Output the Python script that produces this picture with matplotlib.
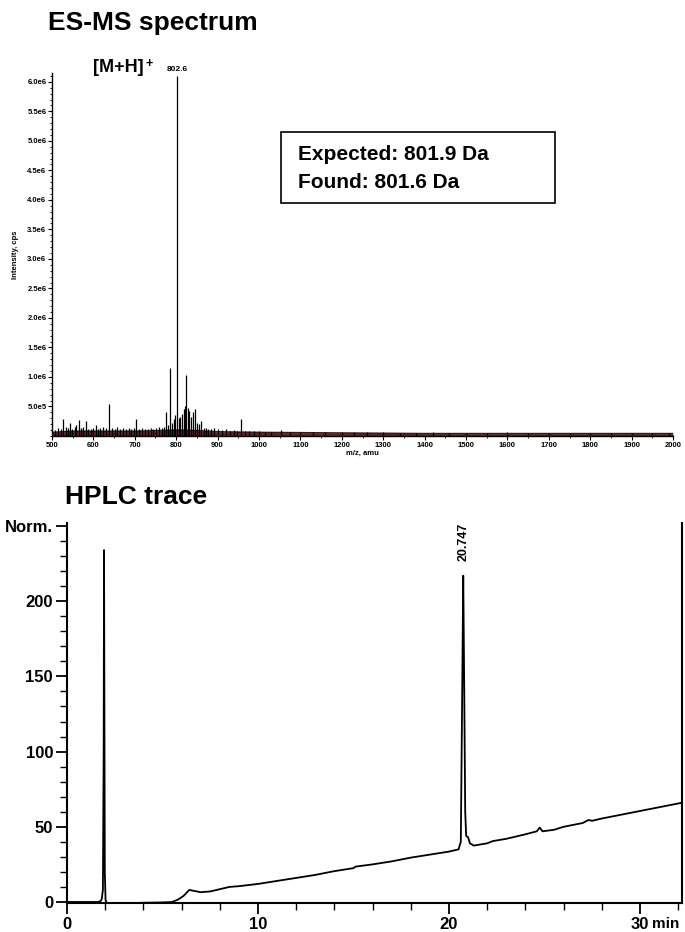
import matplotlib
matplotlib.use('Agg')
import matplotlib.pyplot as plt
from matplotlib.ticker import MultipleLocator, FixedLocator

plt.rcParams['font.family'] = ['Liberation Sans', 'DejaVu Sans']
plt.rcParams['font.weight'] = 'bold'

# ES-MS stick peaks (m/z, intensity in units of 1e6 cps)
ms_mz = [508, 515, 521, 527, 533, 539, 543, 549, 555, 559, 565, 571, 576, 582,
         588, 594, 600, 606, 611, 617, 623, 630, 638, 644, 651, 657, 664, 671,
         678, 685, 692, 698, 703, 710, 717, 724, 731, 738, 745, 752, 759, 765,
         770, 775, 780, 785, 790, 795, 798, 802.6, 806, 810, 814, 818, 821, 824,
         828, 832, 836, 840, 845, 850, 855, 860, 866, 872, 878, 885, 892, 900,
         910, 920, 930, 940, 948, 956, 965, 975, 988, 1000, 1015, 1030, 1052,
         1075, 1100, 1130, 1160, 1200, 1230, 1260, 1300, 1340, 1380, 1420, 1460,
         1500, 1550, 1600, 1650, 1700, 1750, 1800, 1850, 1900, 1950, 1990]
ms_int = [0.10, 0.14, 0.12, 0.29, 0.16, 0.13, 0.22, 0.12, 0.15, 0.19, 0.27, 0.13,
          0.15, 0.25, 0.11, 0.12, 0.14, 0.18, 0.12, 0.13, 0.16, 0.14, 0.55, 0.13,
          0.12, 0.16, 0.12, 0.13, 0.11, 0.14, 0.12, 0.13, 0.29, 0.12, 0.13, 0.12,
          0.11, 0.14, 0.12, 0.13, 0.15, 0.14, 0.16, 0.40, 0.18, 1.15, 0.22, 0.28,
          0.35, 6.10, 0.30, 0.32, 0.38, 0.45, 0.50, 1.03, 0.48, 0.42, 0.32, 0.40,
          0.45, 0.22, 0.20, 0.25, 0.14, 0.13, 0.12, 0.12, 0.13, 0.11, 0.10, 0.11,
          0.09, 0.10, 0.09, 0.29, 0.09, 0.08, 0.08, 0.08, 0.07, 0.07, 0.10, 0.07,
          0.06, 0.07, 0.06, 0.07, 0.06, 0.06, 0.06, 0.05, 0.05, 0.06, 0.05, 0.05,
          0.05, 0.06, 0.05, 0.05, 0.05, 0.05, 0.05, 0.05, 0.05, 0.05]
# baseline noise band
base_mz = [500, 550, 600, 700, 760, 800, 850, 900, 1000, 1200, 1400, 1600, 1800, 2000]
base_int = [0.06, 0.08, 0.08, 0.08, 0.09, 0.10, 0.09, 0.07, 0.06, 0.05, 0.04, 0.04, 0.04, 0.04]
ms_yticks = [0.5, 1.0, 1.5, 2.0, 2.5, 3.0, 3.5, 4.0, 4.5, 5.0, 5.5, 6.0]
ms_ylabels = ['5.0e5', '1.0e6', '1.5e6', '2.0e6', '2.5e6', '3.0e6', '3.5e6',
              '4.0e6', '4.5e6', '5.0e6', '5.5e6', '6.0e6']

# HPLC trace (min, Norm.)
hplc_t = [0.0, 1.0, 1.6, 1.75, 1.82, 1.88, 1.92, 1.94, 1.96, 1.98, 2.02, 2.1,
          3.0, 4.0, 5.0, 5.5, 5.8, 6.1, 6.4, 6.6, 7.0, 7.5, 8.0, 8.5, 9.0,
          10.0, 11.0, 12.0, 13.0, 14.0, 15.0, 15.1, 16.0, 17.0, 18.0, 19.0,
          20.0, 20.5, 20.62, 20.7, 20.747, 20.8, 20.85, 20.9, 21.0, 21.1, 21.3,
          22.0, 22.3, 23.0, 24.0, 24.6, 24.75, 24.9, 25.5, 26.0, 27.0, 27.3,
          27.5, 28.0, 29.0, 30.0, 31.0, 32.0, 32.2]
hplc_y = [0.0, 0.0, 0.0, 0.5, 2.0, 8.0, 100.0, 234.0, 120.0, 20.0, 1.0, -1.0,
          -1.0, -0.5, -0.3, 0.0, 1.5, 4.0, 8.0, 7.5, 6.5, 7.0, 8.5, 10.0, 10.5,
          12.0, 14.0, 16.0, 18.0, 20.5, 22.5, 23.5, 25.0, 27.0, 29.5, 31.5,
          33.5, 35.0, 40.0, 150.0, 217.0, 140.0, 60.0, 44.0, 43.0, 39.0, 37.5,
          39.0, 40.5, 42.0, 45.0, 47.0, 49.5, 47.0, 48.0, 50.0, 52.5, 54.5,
          54.0, 55.5, 58.0, 60.5, 63.0, 65.5, 66.0]
hplc_xticks = [0, 10, 20, 30]
hplc_yticks = [0, 50, 100, 150, 200, 250]
hplc_ylabels = ['0', '50', '100', '150', '200', 'Norm.']

fig = plt.figure(figsize=(6.85, 9.32), dpi=100)

# ---- ES-MS spectrum ----
ax1 = fig.add_axes([0.0759, 0.5322, 0.9066, 0.3895])
ax1.fill_between(base_mz, 0, base_int, color='#5a2626', lw=0)
ax1.plot(base_mz, base_int, color='#3a1a1a', lw=1.2)
ax1.vlines(ms_mz, 0, ms_int, color='black', lw=0.9)
ax1.set_xlim(500, 2000)
ax1.set_ylim(0, 6.15)
ax1.spines['top'].set_visible(False)
ax1.spines['right'].set_visible(False)
ax1.spines['left'].set_linewidth(1.0)
ax1.spines['bottom'].set_linewidth(1.0)
ax1.xaxis.set_major_locator(MultipleLocator(100))
ax1.xaxis.set_minor_locator(MultipleLocator(50))
ax1.yaxis.set_major_locator(FixedLocator(ms_yticks))
ax1.set_yticklabels(ms_ylabels)
ax1.yaxis.set_minor_locator(MultipleLocator(0.1))
ax1.tick_params(axis='both', which='major', labelsize=5.5, length=3, width=0.8, pad=1)
ax1.tick_params(axis='both', which='minor', length=1.5, width=0.6)
ax1.set_xlabel('m/z, amu', fontsize=5.5, fontweight='bold', labelpad=1)
ax1.set_ylabel('Intensity, cps', fontsize=5.5, fontweight='bold', labelpad=6)
ax1.text(802.6, 6.15, '802.6', fontsize=6, fontweight='bold', ha='center', va='bottom')

fig.text(48 / 685, 1 - 23 / 932, 'ES-MS spectrum', fontsize=19, fontweight='bold',
         ha='left', va='center')
fig.text(93 / 685, 1 - 68 / 932, '[M+H]', fontsize=13, fontweight='bold',
         ha='left', va='center')
fig.text(146 / 685, 1 - 64 / 932, '+', fontsize=9, fontweight='bold',
         ha='left', va='center')
fig.patches.append(plt.Rectangle((281 / 685, 1 - 203 / 932), 274 / 685, 71 / 932,
                                 transform=fig.transFigure, fill=False,
                                 edgecolor='black', lw=1.2))
fig.text(298 / 685, 1 - 154 / 932, 'Expected: 801.9 Da', fontsize=15,
         fontweight='bold', ha='left', va='center')
fig.text(298 / 685, 1 - 182 / 932, 'Found: 801.6 Da', fontsize=15,
         fontweight='bold', ha='left', va='center')

# ---- HPLC trace ----
ax2 = fig.add_axes([0.0978, 0.0306, 0.8978, 0.4082])
ax2.plot(hplc_t, hplc_y, color='black', lw=1.3)
ax2.set_xlim(0, 32.2)
ax2.set_ylim(-1, 252)
ax2.spines['top'].set_visible(False)
ax2.spines['right'].set_linewidth(1.5)
ax2.spines['left'].set_linewidth(1.5)
ax2.spines['bottom'].set_linewidth(1.5)
ax2.xaxis.set_major_locator(FixedLocator(hplc_xticks))
ax2.xaxis.set_minor_locator(MultipleLocator(2))
ax2.yaxis.set_major_locator(FixedLocator(hplc_yticks))
ax2.set_yticklabels(hplc_ylabels)
ax2.yaxis.set_minor_locator(MultipleLocator(10))
ax2.tick_params(axis='both', which='major', labelsize=12, length=8, width=1.3, pad=2)
ax2.tick_params(axis='both', which='minor', length=5, width=1.0)
ax2.annotate('min', xy=(30.65, 0), xycoords=('data', 'axes fraction'),
             xytext=(0, -10), textcoords='offset points', fontsize=11,
             fontweight='bold', ha='left', va='top')
ax2.text(20.747, 252, '20.747', fontsize=9, fontweight='bold', rotation=90,
         ha='center', va='top')

fig.text(65 / 685, 1 - 497 / 932, 'HPLC trace', fontsize=19, fontweight='bold',
         ha='left', va='center')

fig.savefig('out.png', dpi=100)
